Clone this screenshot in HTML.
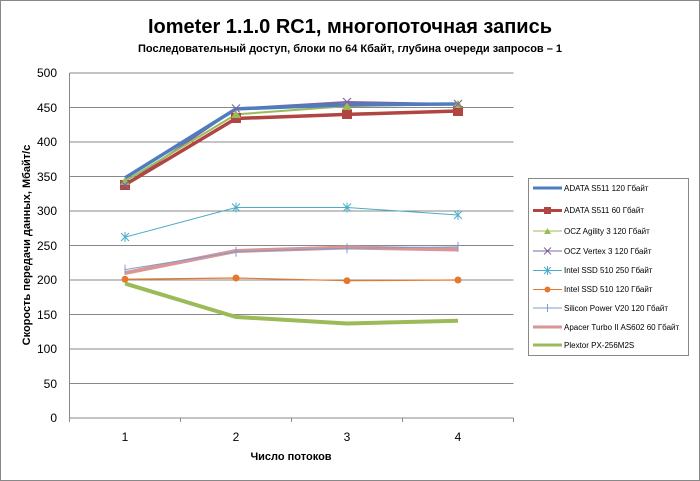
<!DOCTYPE html><html><head><meta charset="utf-8"><style>body{margin:0;background:#fff}svg{display:block;font-family:"Liberation Sans",sans-serif}</style></head><body>
<svg width="700" height="481" viewBox="0 0 700 481">
<rect x="0.5" y="0.5" width="699" height="480" fill="#fff" stroke="#888"/>
<text x="350" y="33" text-anchor="middle" font-size="20" font-weight="bold">Iometer 1.1.0 RC1, многопоточная запись</text>
<text x="350" y="52" text-anchor="middle" font-size="11" font-weight="bold">Последовательный  доступ, блоки  по 64 Кбайт,  глубина очереди запросов – 1</text>
<g stroke="#888" stroke-width="1">
<line x1="69.5" y1="73" x2="513.5" y2="73"/><line x1="69.5" y1="107.5" x2="513.5" y2="107.5"/><line x1="69.5" y1="142" x2="513.5" y2="142"/><line x1="69.5" y1="176.5" x2="513.5" y2="176.5"/><line x1="69.5" y1="211" x2="513.5" y2="211"/><line x1="69.5" y1="245.5" x2="513.5" y2="245.5"/><line x1="69.5" y1="280" x2="513.5" y2="280"/><line x1="69.5" y1="314.5" x2="513.5" y2="314.5"/><line x1="69.5" y1="349" x2="513.5" y2="349"/><line x1="69.5" y1="383.5" x2="513.5" y2="383.5"/><line x1="69.5" y1="418" x2="513.5" y2="418"/>
<line x1="69.5" y1="73" x2="69.5" y2="418"/>
<line x1="180.5" y1="418" x2="180.5" y2="422"/><line x1="291.5" y1="418" x2="291.5" y2="422"/><line x1="402.5" y1="418" x2="402.5" y2="422"/><line x1="513.5" y1="418" x2="513.5" y2="422"/><line x1="69.5" y1="418" x2="69.5" y2="422"/>
</g>
<g font-size="12" text-anchor="end">
<text x="57" y="77">500</text><text x="57" y="112">450</text><text x="57" y="146">400</text><text x="57" y="181">350</text><text x="57" y="215">300</text><text x="57" y="250">250</text><text x="57" y="284">200</text><text x="57" y="319">150</text><text x="57" y="353">100</text><text x="57" y="388">50</text><text x="57" y="422">0</text>
</g>
<g font-size="12" text-anchor="middle"><text x="125" y="441">1</text><text x="236" y="441">2</text><text x="347" y="441">3</text><text x="458" y="441">4</text></g>
<text x="291" y="460" text-anchor="middle" font-size="11" font-weight="bold">Число  потоков</text>
<text transform="translate(30,245) rotate(-90)" text-anchor="middle" font-size="11" font-weight="bold">Скорость  передачи данных, Мбайт/с</text>
<g fill="none" stroke-linejoin="round">
<polyline points="125,283.5 236,317 347,323.5 458,320.7" stroke="#9bbb59" stroke-width="4"/>
<polyline points="125,273 236,251 347,247.5 458,249.5" stroke="#d99694" stroke-width="4"/>
<polyline points="125,269.6 236,251.7 347,248.3 458,246.9" stroke="#7f9bcf" stroke-width="1"/>
<polyline points="125,279.3 236,278 347,280.7 458,280" stroke="#e4782e" stroke-width="1.2"/>
<polyline points="125,237.2 236,207.5 347,207.5 458,215" stroke="#4bacc6" stroke-width="1"/>
<polyline points="125,184.8 236,108.5 347,102 458,104" stroke="#8064a2" stroke-width="2"/>
<polyline points="125,181.3 236,114.4 347,106.1 458,104" stroke="#9bbb59" stroke-width="2"/>
<polyline points="125,184.8 236,118.5 347,114.4 458,111" stroke="#b04542" stroke-width="3.5"/>
<polyline points="125,177.9 236,108.9 347,104.7 458,104" stroke="#4f7cbf" stroke-width="3.5"/>
</g>
<g stroke="#7f9bcf" stroke-width="1"><path d="M125,264.6v10 M236,246.7v10 M347,243.3v10 M458,241.9v10"/></g>
<g fill="#b04542"><rect x="120" y="180" width="10" height="10"/><rect x="231" y="113" width="10" height="10"/><rect x="342" y="109" width="10" height="10"/><rect x="453" y="106" width="10" height="10"/></g>
<g fill="#9bbb59"><path d="M125,177l5,8h-10z M236,110l5,8h-10z M347,102l5,8h-10z M458,100l5,8h-10z"/></g>
<g stroke="#8064a2" stroke-width="1.2"><path d="M121,181l8,8M129,181l-8,8 M232,104.5l8,8M240,104.5l-8,8 M343,98l8,8M351,98l-8,8 M454,100l8,8M462,100l-8,8"/></g>
<g fill="#e4782e"><circle cx="125" cy="279.3" r="3.5"/><circle cx="236" cy="278" r="3.5"/><circle cx="347" cy="280.7" r="3.5"/><circle cx="458" cy="280" r="3.5"/></g>
<g stroke="#4bacc6" stroke-width="1"><path d="M121,233 l8,8 M129,233 l-8,8 M125,232 v10 M232,203.5 l8,8 M240,203.5 l-8,8 M236,202.5 v10 M343,203.5 l8,8 M351,203.5 l-8,8 M347,202.5 v10 M454,211 l8,8 M462,211 l-8,8 M458,210 v10"/></g>
<rect x="528.5" y="178.5" width="160" height="177" fill="#fff" stroke="#888"/>
<g font-size="8">
<line x1="533" y1="188" x2="562" y2="188" stroke="#4f7cbf" stroke-width="3"/><text x="564" y="191">ADATA  S511 120 Гбайт</text>
<rect x="544" y="207" width="7" height="7" fill="#b04542"/><line x1="533" y1="210.5" x2="562" y2="210.5" stroke="#b04542" stroke-width="3"/><text x="564" y="213">ADATA  S511 60 Гбайт</text>
<line x1="533" y1="231" x2="562" y2="231" stroke="#9bbb59"/><path d="M544,234 l3.5,-6 l3.5,6z" fill="#9bbb59"/><text x="564" y="234">OCZ Agility  3 120 Гбайт</text>
<line x1="533" y1="251" x2="562" y2="251" stroke="#8064a2"/><path d="M544,247.5l7,7M551,247.5l-7,7" stroke="#8064a2"/><text x="564" y="254">OCZ Vertex  3 120 Гбайт</text>
<line x1="533" y1="270.5" x2="562" y2="270.5" stroke="#4bacc6"/><path d="M544,267l7,7M551,267l-7,7M547.5,266v9" stroke="#4bacc6"/><text x="564" y="273">Intel  SSD 510 250 Гбайт</text>
<line x1="533" y1="289.5" x2="562" y2="289.5" stroke="#e4782e"/><circle cx="547.5" cy="289.5" r="3" fill="#e4782e"/><text x="564" y="292">Intel  SSD 510 120 Гбайт</text>
<line x1="533" y1="308" x2="562" y2="308" stroke="#7f9bcf"/><path d="M547.5,304v8" stroke="#7f9bcf"/><text x="564" y="311">Silicon  Power  V20 120 Гбайт</text>
<line x1="533" y1="327" x2="562" y2="327" stroke="#d99694" stroke-width="3"/><text x="564" y="330">Apacer  Turbo  II  AS602 60 Гбайт</text>
<line x1="533" y1="345" x2="562" y2="345" stroke="#9bbb59" stroke-width="3"/><text x="564" y="348">Plextor PX-256M2S</text>
</g>
</svg></body></html>
